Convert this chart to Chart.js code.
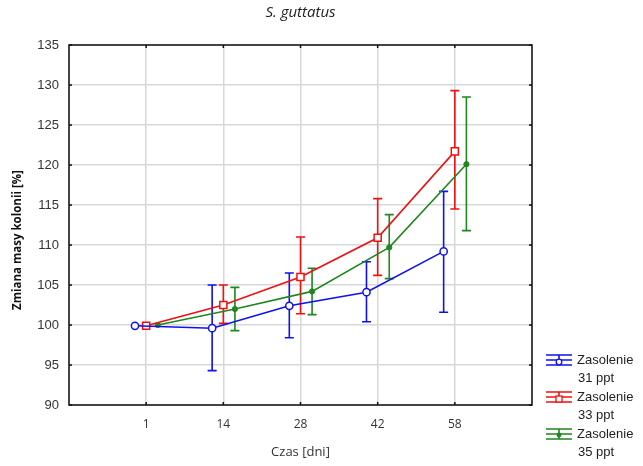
<!DOCTYPE html>
<html>
<head>
<meta charset="utf-8">
<script src="https://cdn.jsdelivr.net/npm/chart.js@4/dist/chart.umd.min.js"></script>
<style>
  html, body { margin: 0; padding: 0; background: #ffffff; }
  #wrap { position: relative; width: 643px; height: 466px; }
</style>
</head>
<body>
<div id="wrap"><canvas id="chart" width="643" height="466"></canvas></div>
<script>
// Sampling days (category labels on the x axis)
const days = ['1', '14', '28', '42', '58'];

// Mean change of colony mass [%] and error-bar limits per salinity
const mean31 = [99.9, 99.6, 102.4, 104.1, 109.2];
const hi31   = [null, 105.0, 106.5, 107.9, 116.7];
const lo31   = [null, 94.3, 98.4, 100.4, 101.6];

const mean33 = [99.9, 102.5, 106.0, 110.9, 121.7];
const hi33   = [null, 105.0, 111.0, 115.8, 129.3];
const lo33   = [null, 100.2, 101.4, 106.2, 114.5];

const mean35 = [100.0, 102.0, 104.2, 109.7, 120.1];
const hi35   = [null, 104.7, 107.1, 113.8, 128.5];
const lo35   = [null, 99.3, 101.3, 105.8, 111.8];

const seriesLabels = [['Zasolenie', '31 ppt'], ['Zasolenie', '33 ppt'], ['Zasolenie', '35 ppt']];
const yTicks = [90, 95, 100, 105, 110, 115, 120, 125, 130, 135];

// Horizontal dodge so the three groups do not overlap at a category
const dodge = [-0.145, 0, 0.15];
const colors = ['#1010f0', '#f01010', '#1e871e'];

function toPoints(values, k) {
  return values.map((v, i) => ({ x: i + 1 + dodge[k], y: v }));
}

const errors = [
  { lo: lo31, hi: hi31 },
  { lo: lo33, hi: hi33 },
  { lo: lo35, hi: hi35 }
];

const datasets = [
  {
    label: seriesLabels[0].join(' '),
    data: toPoints(mean31, 0),
    borderColor: colors[0], backgroundColor: '#ffffff',
    borderWidth: 1.6, pointStyle: 'circle', pointRadius: 3.6,
    pointBorderWidth: 1.5, pointBackgroundColor: '#ffffff', pointBorderColor: colors[0]
  },
  {
    label: seriesLabels[1].join(' '),
    data: toPoints(mean33, 1),
    borderColor: colors[1], backgroundColor: '#ffffff',
    borderWidth: 1.6, pointStyle: 'rect', pointRadius: 5,
    pointBorderWidth: 1.5, pointBackgroundColor: '#ffffff', pointBorderColor: colors[1]
  },
  {
    label: seriesLabels[2].join(' '),
    data: toPoints(mean35, 2),
    borderColor: colors[2], backgroundColor: colors[2],
    borderWidth: 1.6, pointStyle: 'circle', pointRadius: 2.6,
    pointBorderWidth: 1, pointBackgroundColor: colors[2], pointBorderColor: colors[2]
  }
];

// Error bars with caps, drawn beneath the markers
const errorBarPlugin = {
  id: 'errorBars',
  beforeDatasetsDraw(chart) {
    const { ctx, scales: { x, y } } = chart;
    ctx.save();
    ctx.lineWidth = 1.6;
    chart.data.datasets.forEach((ds, k) => {
      const e = errors[k];
      ctx.strokeStyle = colors[k];
      ds.data.forEach((p, i) => {
        if (e.hi[i] == null || e.lo[i] == null) return;
        const px = x.getPixelForValue(p.x);
        const yt = y.getPixelForValue(e.hi[i]);
        const yb = y.getPixelForValue(e.lo[i]);
        ctx.beginPath();
        ctx.moveTo(px, yt); ctx.lineTo(px, yb);
        ctx.moveTo(px - 4.5, yt); ctx.lineTo(px + 4.5, yt);
        ctx.moveTo(px - 4.5, yb); ctx.lineTo(px + 4.5, yb);
        ctx.stroke();
      });
    });
    ctx.restore();
  }
};

// Plot frame with short inward tick marks
const framePlugin = {
  id: 'frame',
  beforeDatasetsDraw(chart) {
    const { ctx, chartArea: a, scales: { x, y } } = chart;
    ctx.save();
    ctx.strokeStyle = '#111111';
    ctx.lineWidth = 1.5;
    ctx.strokeRect(a.left, a.top, a.right - a.left, a.bottom - a.top);
    ctx.beginPath();
    for (let i = 1; i <= days.length; i++) {
      const px = x.getPixelForValue(i);
      ctx.moveTo(px, a.bottom); ctx.lineTo(px, a.bottom - 3);
      ctx.moveTo(px, a.top); ctx.lineTo(px, a.top + 3);
    }
    yTicks.forEach(v => {
      const py = y.getPixelForValue(v);
      ctx.moveTo(a.left, py); ctx.lineTo(a.left + 3, py);
      ctx.moveTo(a.right, py); ctx.lineTo(a.right - 3, py);
    });
    ctx.stroke();
    ctx.restore();
  }
};

// Title, axis titles and the legend at the lower right
const textPlugin = {
  id: 'texts',
  afterDraw(chart) {
    const { ctx, chartArea: a } = chart;
    const cx = (a.left + a.right) / 2;
    ctx.save();
    ctx.fillStyle = '#222222';
    ctx.textAlign = 'center';
    ctx.textBaseline = 'middle';
    ctx.font = 'italic 15px "Open Sans"';
    ctx.fillText('S. guttatus', cx, 13);

    ctx.font = '13px "Open Sans"';
    ctx.fillStyle = '#333333';
    ctx.fillText('Czas [dni]', cx, 452);

    ctx.save();
    ctx.translate(18, 240);
    ctx.rotate(-Math.PI / 2);
    ctx.font = 'bold 11.5px "Open Sans"';
    ctx.fillStyle = '#111111';
    ctx.fillText('Zmiana masy kolonii [%]', 0, 0);
    ctx.restore();

    // legend
    const lx = 546, lw = 26, tx = 577;
    ctx.textAlign = 'left';
    ctx.font = '13px "Liberation Sans", Arial, sans-serif';
    seriesLabels.forEach((lines, k) => {
      const ly = 360 + k * 37;
      const mx = lx + lw / 2;
      ctx.strokeStyle = colors[k];
      ctx.lineWidth = 1.6;
      ctx.beginPath();
      ctx.moveTo(lx, ly - 5); ctx.lineTo(lx + lw, ly - 5);
      ctx.moveTo(lx, ly); ctx.lineTo(lx + lw, ly);
      ctx.moveTo(lx, ly + 5); ctx.lineTo(lx + lw, ly + 5);
      ctx.moveTo(mx, ly - 5); ctx.lineTo(mx, ly + 5);
      ctx.stroke();
      ctx.lineWidth = 1.3;
      if (k === 0) {
        ctx.fillStyle = '#ffffff';
        ctx.beginPath(); ctx.arc(mx, ly + 2, 2.8, 0, Math.PI * 2); ctx.fill(); ctx.stroke();
      } else if (k === 1) {
        ctx.fillStyle = '#ffffff';
        ctx.fillRect(mx - 3, ly - 1, 6, 6); ctx.strokeRect(mx - 3, ly - 1, 6, 6);
      } else {
        ctx.fillStyle = colors[k];
        ctx.beginPath(); ctx.arc(mx, ly + 1, 2.4, 0, Math.PI * 2); ctx.fill();
      }
      ctx.fillStyle = '#222222';
      ctx.fillText(lines[0], tx, ly);
      ctx.fillText(lines[1], tx + 1, ly + 18);
    });
    ctx.restore();
  }
};

new Chart(document.getElementById('chart'), {
  type: 'line',
  data: { datasets },
  plugins: [framePlugin, errorBarPlugin, textPlugin],
  options: {
    responsive: false,
    animation: false,
    layout: { padding: { top: 45, right: 111, left: 0, bottom: 0 } },
    plugins: { legend: { display: false }, tooltip: { enabled: false }, title: { display: false } },
    elements: { line: { tension: 0 } },
    scales: {
      x: {
        type: 'linear', min: 0, max: days.length + 1,
        afterFit(s) { s.height = 61; },
        afterBuildTicks(s) { s.ticks = Array.from({ length: days.length + 2 }, (_, i) => ({ value: i })); },
        grid: { color: '#d8d8d8', lineWidth: 1.5, drawTicks: false },
        border: { display: false },
        ticks: {
          padding: 12, color: '#333333', font: { family: '"Open Sans"', size: 12 },
          callback: v => (v >= 1 && v <= days.length ? days[v - 1] : '')
        }
      },
      y: {
        min: yTicks[0], max: yTicks[yTicks.length - 1],
        afterFit(s) { s.width = 69; },
        afterBuildTicks(s) { s.ticks = yTicks.map(v => ({ value: v })); },
        grid: { color: '#d8d8d8', lineWidth: 1.5, drawTicks: false },
        border: { display: false },
        ticks: { padding: 10, color: '#333333', font: { family: '"Liberation Sans", Arial', size: 13 } }
      }
    }
  }
});
</script>
</body>
</html>
